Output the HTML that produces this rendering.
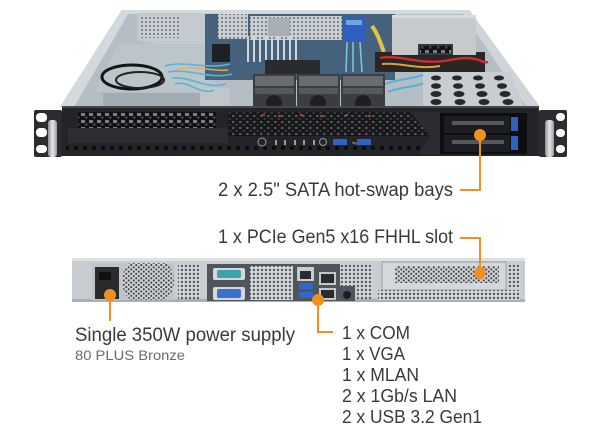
<!DOCTYPE html>
<html><head><meta charset="utf-8">
<style>
html,body{margin:0;padding:0;background:#fff;}
svg{display:block;}
text{font-family:"Liberation Sans",sans-serif;fill:#3a3a3a;}
</style></head><body>
<svg width="600" height="430" viewBox="0 0 600 430" xmlns="http://www.w3.org/2000/svg">
<defs>
 <pattern id="mesh" width="4" height="4" patternUnits="userSpaceOnUse"><rect width="4" height="4" fill="#d8dcdf"/><rect x="0.8" y="0.8" width="2.3" height="2.3" fill="#5d6268"/></pattern>
 <pattern id="meshL" width="4" height="4" patternUnits="userSpaceOnUse"><rect width="4" height="4" fill="#c9cfd3"/><rect x="1" y="1" width="2" height="2" fill="#7d868d"/></pattern>
 <pattern id="hex" width="5" height="4.4" patternUnits="userSpaceOnUse"><rect width="5" height="4.4" fill="#d0d4d7"/><circle cx="1.25" cy="1.1" r="1.05" fill="#3e4246"/><circle cx="3.75" cy="3.3" r="1.05" fill="#3e4246"/></pattern>
 <pattern id="fvent" width="8" height="7" patternUnits="userSpaceOnUse"><rect width="8" height="7" fill="#121214"/><rect x="1" y="1" width="4" height="3" fill="#7a7e84"/><rect x="5" y="4.5" width="2.5" height="2" fill="#4a4d52"/></pattern>
 <pattern id="fhex" width="7" height="6" patternUnits="userSpaceOnUse"><rect width="7" height="6" fill="#18181a"/><rect x="1" y="1" width="2.5" height="2" fill="#55575c"/><rect x="4.5" y="4" width="2.5" height="1.6" fill="#3c3d41"/></pattern>
 <pattern id="fbot" width="9" height="8" patternUnits="userSpaceOnUse"><rect width="9" height="8" fill="#232427"/><rect x="2" y="2" width="4" height="4" rx="1" fill="#0c0c0d"/></pattern>
 <linearGradient id="handle" x1="0" x2="1" y1="0" y2="0"><stop offset="0" stop-color="#8d8f92"/><stop offset="0.5" stop-color="#e6e7e8"/><stop offset="1" stop-color="#9a9c9f"/></linearGradient>
 <clipPath id="psuclip"><rect x="120" y="263" width="56" height="37"/></clipPath>
</defs>

<!-- ================= TOP (front/interior) ================= -->
<polygon points="121,11 470,11 540,107 60,107" fill="#b4bec4"/>
<polygon points="121,11 130,11 74,107 60,107" fill="#d3d9dc"/>
<polygon points="461,11 470,11 540,107 527,107" fill="#cfd5d8"/>
<rect x="121" y="10" width="349" height="4" fill="#d4d9dc"/>

<!-- left riser bracket -->
<polygon points="137,13 223,13 218,52 192,52 137,40" fill="#c4cbcf"/>
<rect x="140" y="16" width="40" height="22" fill="url(#meshL)"/>
<!-- left floor -->
<polygon points="118,44 215,44 215,92 95,92" fill="#bcc5ca"/>
<ellipse cx="132" cy="77" rx="30" ry="12" fill="none" stroke="#151515" stroke-width="3"/>
<ellipse cx="140" cy="80" rx="24" ry="8" fill="none" stroke="#222" stroke-width="2"/>
<rect x="103" y="93" width="110" height="13" fill="#a3acb2"/>
<rect x="200" y="88" width="30" height="18" fill="#c0c6ca"/>

<!-- motherboard -->
<rect x="205" y="14" width="190" height="66" fill="#46617c"/>
<rect x="218" y="14" width="30" height="25" fill="url(#meshL)"/>
<rect x="250" y="16" width="92" height="24" fill="url(#meshL)"/>
<g stroke="#d2d6d9" stroke-width="2">
 <line x1="248" y1="36" x2="248" y2="62"/><line x1="254" y1="36" x2="254" y2="62"/><line x1="260" y1="36" x2="260" y2="62"/><line x1="266" y1="36" x2="266" y2="62"/><line x1="272" y1="36" x2="272" y2="62"/><line x1="278" y1="36" x2="278" y2="62"/><line x1="284" y1="36" x2="284" y2="62"/><line x1="290" y1="36" x2="290" y2="62"/><line x1="296" y1="36" x2="296" y2="62"/>
</g>
<rect x="268" y="18" width="22" height="18" fill="#a9aeb2"/>
<rect x="265" y="60" width="55" height="14" fill="#2a2b2e"/>
<rect x="212" y="44" width="18" height="18" fill="#1e2024"/>
<!-- blue header -->
<rect x="343" y="18" width="22" height="24" fill="#2f5fc0"/>
<rect x="346" y="20" width="16" height="5" fill="#6fa6e0"/>
<g stroke="#7cc3e6" stroke-width="1.6"><line x1="347" y1="42" x2="346" y2="72"/><line x1="353" y1="42" x2="353" y2="72"/><line x1="360" y1="42" x2="362" y2="72"/></g>
<!-- blue cables left -->
<g fill="none" stroke="#55b5dc" stroke-width="1.6">
 <path d="M165 66 C185 60 205 70 230 64"/><path d="M168 72 C190 68 210 80 232 74"/><path d="M172 78 C192 76 206 90 226 84"/><path d="M175 84 C190 80 200 96 214 90"/>
</g>
<path d="M175 70 C195 64 210 72 228 70" fill="none" stroke="#e9b040" stroke-width="1.4"/>
<!-- cables yellow/red/black -->
<path d="M372 26 C378 34 380 42 384 52" fill="none" stroke="#e3c24a" stroke-width="4"/>
<rect x="375" y="52" width="110" height="20" fill="#2a2626"/>
<path d="M380 58 C400 54 420 66 450 60 S 480 64 488 62" fill="none" stroke="#c9302c" stroke-width="2.4"/>
<path d="M382 64 C400 62 418 70 440 66" fill="none" stroke="#d7a23a" stroke-width="2"/>
<path d="M385 84 C400 78 412 80 425 74" fill="none" stroke="#4fb0dc" stroke-width="2"/>
<path d="M388 92 C402 86 414 88 426 82" fill="none" stroke="#4fb0dc" stroke-width="2"/>
<!-- PSU -->
<rect x="392" y="15" width="84" height="40" fill="#c6cacd"/>
<rect x="392" y="15" width="84" height="3" fill="#d8dbdd"/>
<rect x="418" y="44" width="35" height="11" fill="#3a3b3e"/>
<rect x="420" y="46" width="31" height="7" fill="url(#fvent)"/>
<!-- fans -->
<g>
 <rect x="253" y="74" width="43" height="33" fill="#3b3d41"/>
 <rect x="297" y="74" width="43" height="33" fill="#3b3d41"/>
 <rect x="341" y="74" width="44" height="33" fill="#3b3d41"/>
 <rect x="255" y="76" width="39" height="10" fill="#686b70"/>
 <rect x="299" y="76" width="39" height="10" fill="#686b70"/>
 <rect x="343" y="76" width="40" height="10" fill="#686b70"/>
 <rect x="255" y="88" width="39" height="6" fill="#55585c"/>
 <rect x="299" y="88" width="39" height="6" fill="#55585c"/>
 <rect x="343" y="88" width="40" height="6" fill="#55585c"/>
 <circle cx="274" cy="103" r="8" fill="#1e1f22"/><circle cx="318" cy="103" r="8" fill="#1e1f22"/><circle cx="363" cy="103" r="8" fill="#1e1f22"/>
</g>
<!-- drive cage -->
<polygon points="423,72 510,72 524,106 423,106" fill="#c7cdd1"/>
<g fill="#26282b">
 <ellipse cx="436" cy="78" rx="5" ry="2.5"/><ellipse cx="457" cy="78" rx="5" ry="2.5"/><ellipse cx="478" cy="78" rx="5" ry="2.5"/><ellipse cx="499" cy="78" rx="5" ry="2.5"/>
 <ellipse cx="436" cy="86" rx="5" ry="2.8"/><ellipse cx="458" cy="86" rx="5" ry="2.8"/><ellipse cx="480" cy="86" rx="5" ry="2.8"/><ellipse cx="502" cy="86" rx="5" ry="2.8"/>
 <ellipse cx="436" cy="94" rx="5.5" ry="3"/><ellipse cx="459" cy="94" rx="5.5" ry="3"/><ellipse cx="482" cy="94" rx="5.5" ry="3"/><ellipse cx="505" cy="94" rx="5.5" ry="3"/>
 <ellipse cx="436" cy="102" rx="5.5" ry="3"/><ellipse cx="460" cy="102" rx="5.5" ry="3"/><ellipse cx="484" cy="102" rx="5.5" ry="3"/><ellipse cx="508" cy="102" rx="5.5" ry="3"/>
</g>

<!-- front panel -->
<rect x="62" y="106" width="477" height="50" fill="#232427"/>
<rect x="62" y="106" width="477" height="2" fill="#45474b"/>
<rect x="78" y="112" width="138" height="16" fill="url(#fvent)"/>
<rect x="68" y="128" width="160" height="15" fill="#2d2e32"/>
<rect x="66" y="145" width="370" height="9" fill="url(#fbot)"/>
<rect x="228" y="112" width="205" height="24" fill="url(#fhex)"/>
<g fill="#c0502a" opacity="0.8"><rect x="262" y="114" width="3" height="2"/><rect x="278" y="115" width="3" height="2"/><rect x="300" y="114" width="3" height="2"/><rect x="320" y="115" width="3" height="2"/><rect x="345" y="114" width="3" height="2"/><rect x="368" y="115" width="3" height="2"/></g>
<polygon points="410,112 440,112 440,154 418,154 430,136" fill="#2b2c30"/>
<circle cx="262" cy="142" r="4" fill="none" stroke="#9a9ca0" stroke-width="1"/>
<g fill="#9a9ca0"><rect x="275" y="140" width="2" height="5"/><rect x="284" y="140" width="2" height="5"/><rect x="294" y="140" width="2" height="5"/><rect x="303" y="140" width="2" height="5"/><rect x="313" y="140" width="2" height="5"/></g>
<circle cx="323" cy="142" r="3.5" fill="none" stroke="#9a9ca0" stroke-width="1"/>
<rect x="333" y="139" width="14" height="6" fill="#2f62c4"/>
<rect x="357" y="139" width="14" height="6" fill="#2f62c4"/>
<text x="352" y="145" font-size="6" style="fill:#9a9ca0">⇋</text>
<!-- drive bays -->
<rect x="440" y="113" width="87" height="41" fill="#0e0e10"/>
<rect x="444" y="116" width="66" height="17" fill="#1d1e21"/>
<rect x="444" y="135" width="66" height="17" fill="#1d1e21"/>
<rect x="452" y="121" width="52" height="4" fill="#55585d"/>
<rect x="452" y="140" width="52" height="4" fill="#55585d"/>
<rect x="511" y="117" width="7" height="14" fill="#2f60c0"/>
<rect x="511" y="136" width="7" height="14" fill="#2f60c0"/>
<!-- ears -->
<rect x="34" y="110" width="28" height="47" rx="2" fill="#2b2c2f"/>
<rect x="36" y="113" width="11" height="9" rx="4" fill="#fff"/>
<rect x="36" y="128" width="11" height="9" rx="4" fill="#fff"/>
<rect x="36" y="145" width="11" height="8" rx="4" fill="#fff"/>
<rect x="48" y="120" width="9" height="37" rx="3" fill="url(#handle)"/>
<rect x="539" y="110" width="28" height="47" rx="2" fill="#2b2c2f"/>
<rect x="556" y="113" width="9" height="8" rx="4" fill="#fff"/>
<rect x="556" y="129" width="9" height="8" rx="4" fill="#fff"/>
<rect x="556" y="145" width="9" height="8" rx="4" fill="#fff"/>
<rect x="545" y="120" width="9" height="37" rx="3" fill="url(#handle)"/>

<!-- ================= REAR ================= -->
<rect x="72" y="258" width="453" height="44" fill="#c8cdd1"/>
<rect x="72" y="258" width="453" height="3" fill="#dde1e3"/>
<rect x="72" y="299" width="453" height="3" fill="#a9afb4"/>
<!-- PSU -->
<rect x="92" y="263" width="82" height="37" fill="#bfc4c8"/>
<rect x="95" y="267" width="24" height="32" fill="#2a2a2c"/>
<rect x="99" y="272" width="12" height="8" fill="#111"/>
<circle cx="148" cy="281" r="26" fill="url(#hex)" clip-path="url(#psuclip)"/>
<rect x="178" y="264" width="22" height="35" fill="url(#mesh)"/>
<!-- IO shield -->
<rect x="207" y="264" width="148" height="37" fill="#50545b"/>
<rect x="213" y="268" width="32" height="12" rx="2" fill="#d5d8db"/>
<rect x="217" y="270" width="24" height="8" rx="2" fill="#3aa3ad"/>
<rect x="213" y="287" width="32" height="13" rx="2" fill="#d5d8db"/>
<rect x="217" y="289" width="24" height="9" rx="2" fill="#3b6fd0"/>
<rect x="250" y="266" width="43" height="34" fill="url(#mesh)"/>
<rect x="297" y="267" width="17" height="14" fill="#c9cdd0"/>
<rect x="300" y="271" width="11" height="8" fill="#2a2b2e"/>
<rect x="299" y="283" width="14" height="6" fill="#2f66d0"/>
<rect x="299" y="292" width="14" height="6" fill="#2f66d0"/>
<rect x="319" y="272" width="17" height="13" fill="#c3c7ca"/>
<rect x="321" y="274" width="13" height="9" fill="#2a2b2e"/>
<rect x="319" y="288" width="17" height="12" fill="#c3c7ca"/>
<rect x="321" y="290" width="13" height="8" fill="#2a2b2e"/>
<circle cx="347" cy="295" r="4" fill="#1c1d20"/>
<rect x="340" y="264" width="15" height="22" fill="url(#mesh)"/>
<rect x="357" y="265" width="16" height="34" fill="url(#mesh)"/>
<!-- PCIe -->
<rect x="382" y="262" width="124" height="28" fill="#d4d8db"/>
<rect x="382" y="262" width="124" height="28" fill="none" stroke="#9aa0a5" stroke-width="1"/>
<rect x="395" y="266" width="104" height="17" fill="url(#hex)"/>
<rect x="378" y="290" width="142" height="10" fill="url(#mesh)"/>
<rect x="508" y="264" width="12" height="24" fill="url(#mesh)"/>

<!-- ================= ORANGE CALLOUTS ================= -->
<g stroke="#f0901e" stroke-width="2" fill="none">
 <polyline points="480,135 480,190 460,190"/>
 <polyline points="480,273 480,238 460,238"/>
 <line x1="110" y1="295" x2="110" y2="321"/>
 <polyline points="318,300 318,332 333,332"/>
</g>
<g fill="#f0901e">
 <circle cx="480" cy="135" r="6"/>
 <circle cx="480" cy="273" r="6"/>
 <circle cx="110" cy="295" r="6"/>
 <circle cx="318" cy="300" r="6"/>
</g>

<!-- ================= TEXT ================= -->
<text x="453" y="196" font-size="19" text-anchor="end" textLength="235" lengthAdjust="spacingAndGlyphs">2 x 2.5" SATA hot-swap bays</text>
<text x="453" y="243" font-size="19" text-anchor="end" textLength="235" lengthAdjust="spacingAndGlyphs">1 x PCIe Gen5 x16 FHHL slot</text>
<text x="75" y="341" font-size="19" textLength="220" lengthAdjust="spacingAndGlyphs">Single 350W power supply</text>
<text x="75" y="360" font-size="14" style="fill:#6b6b6b" textLength="110" lengthAdjust="spacingAndGlyphs">80 PLUS Bronze</text>
<text x="342" y="339" font-size="18.5" textLength="68" lengthAdjust="spacingAndGlyphs">1 x COM</text>
<text x="342" y="360" font-size="18.5" textLength="63" lengthAdjust="spacingAndGlyphs">1 x VGA</text>
<text x="342" y="381" font-size="18.5" textLength="77" lengthAdjust="spacingAndGlyphs">1 x MLAN</text>
<text x="342" y="402" font-size="18.5" textLength="115" lengthAdjust="spacingAndGlyphs">2 x 1Gb/s LAN</text>
<text x="342" y="423" font-size="18.5" textLength="140" lengthAdjust="spacingAndGlyphs">2 x USB 3.2 Gen1</text>
</svg>
</body></html>
